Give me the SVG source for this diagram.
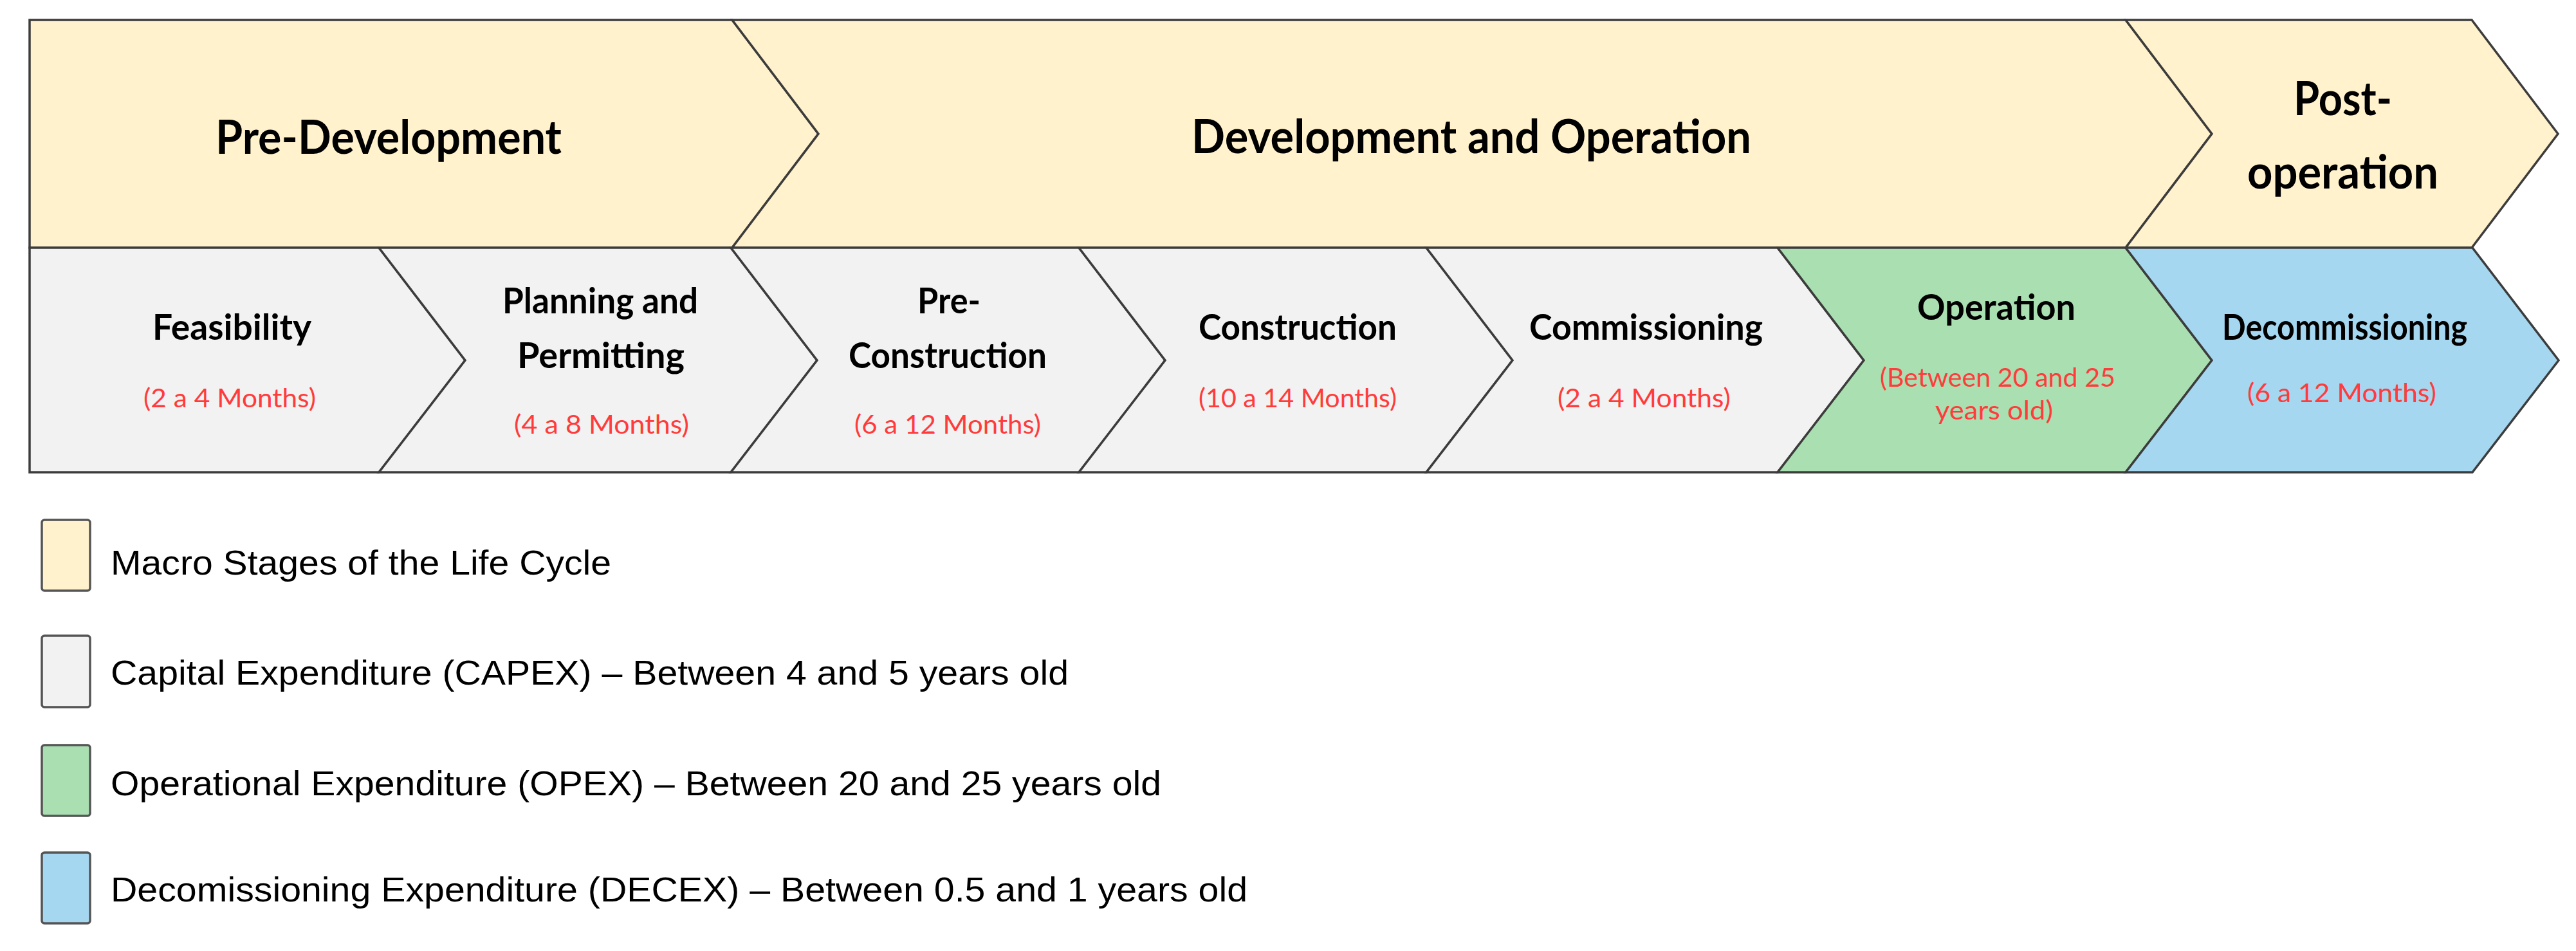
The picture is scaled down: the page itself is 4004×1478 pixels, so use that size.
<svg xmlns="http://www.w3.org/2000/svg" width="4004" height="1478" viewBox="0 0 4004 1478">
<style>
.bg{fill:#ffffff}
.shape{stroke:#3c3c3c;stroke-width:3.5;stroke-linejoin:miter}
.macro{fill:#FFF2CC}
.capex{fill:#F2F2F2}
.opex{fill:#A9DFB1}
.decex{fill:#A6D7F0}
.mt{font-family:Lato,"Liberation Sans",sans-serif;font-weight:bold;font-size:72px;fill:#000}
.st{font-family:Lato,"Liberation Sans",sans-serif;font-weight:bold;font-size:55px;fill:#000}
.rt{font-family:Lato,"Liberation Sans",sans-serif;font-size:41px;fill:#FF3B3B}
.lg{font-family:"Liberation Sans",Arial,sans-serif;font-size:53px;fill:#000}
.sw{stroke:#555555;stroke-width:3.5}
</style>
<rect class="bg" x="0" y="0" width="4004" height="1478"/>

<g id="macro-pre-development">
<polygon class="shape macro" points="46,31 1138,31 1272,208 1138,385 46,385"/>
<text class="mt" x="335" y="239" textLength="538" lengthAdjust="spacingAndGlyphs">Pre-Development</text>
</g>
<g id="macro-development-operation">
<polygon class="shape macro" points="1138,31 3304,31 3438,208 3304,385 1138,385 1272,208"/>
<text class="mt" x="1852" y="238" textLength="870" lengthAdjust="spacingAndGlyphs">Development and Operation</text>
</g>
<g id="macro-post-operation">
<polygon class="shape macro" points="3304,31 3842,31 3976,208 3842,385 3304,385 3438,208"/>
<text class="mt" x="3565" y="179" textLength="153" lengthAdjust="spacingAndGlyphs">Post-</text>
<text class="mt" x="3493" y="293" textLength="297" lengthAdjust="spacingAndGlyphs">operation</text>
</g>

<g id="feasibility">
<polygon class="shape capex" points="46,385 589,385 723,560 589,734 46,734"/>
<text class="st" x="237" y="528" textLength="247" lengthAdjust="spacingAndGlyphs">Feasibility</text>
<text class="rt" x="223" y="633" textLength="268" lengthAdjust="spacingAndGlyphs">(2 a 4 Months)</text>
</g>
<g id="planning-permitting">
<polygon class="shape capex" points="589,385 1136,385 1270,560 1136,734 589,734 723,560"/>
<text class="st" x="781" y="487" textLength="304" lengthAdjust="spacingAndGlyphs">Planning and</text>
<text class="st" x="804" y="572" textLength="260" lengthAdjust="spacingAndGlyphs">Permitting</text>
<text class="rt" x="799" y="674" textLength="272" lengthAdjust="spacingAndGlyphs">(4 a 8 Months)</text>
</g>
<g id="pre-construction">
<polygon class="shape capex" points="1136,385 1677,385 1811,560 1677,734 1136,734 1270,560"/>
<text class="st" x="1426" y="487" textLength="98" lengthAdjust="spacingAndGlyphs">Pre-</text>
<text class="st" x="1319" y="572" textLength="308" lengthAdjust="spacingAndGlyphs">Construction</text>
<text class="rt" x="1328" y="674" textLength="290" lengthAdjust="spacingAndGlyphs">(6 a 12 Months)</text>
</g>
<g id="construction">
<polygon class="shape capex" points="1677,385 2217,385 2351,560 2217,734 1677,734 1811,560"/>
<text class="st" x="1863" y="528" textLength="308" lengthAdjust="spacingAndGlyphs">Construction</text>
<text class="rt" x="1863" y="633" textLength="308" lengthAdjust="spacingAndGlyphs">(10 a 14 Months)</text>
</g>
<g id="commissioning">
<polygon class="shape capex" points="2217,385 2763,385 2897,560 2763,734 2217,734 2351,560"/>
<text class="st" x="2377" y="528" textLength="363" lengthAdjust="spacingAndGlyphs">Commissioning</text>
<text class="rt" x="2421" y="633" textLength="269" lengthAdjust="spacingAndGlyphs">(2 a 4 Months)</text>
</g>
<g id="operation">
<polygon class="shape opex" points="2763,385 3304,385 3438,560 3304,734 2763,734 2897,560"/>
<text class="st" x="2980" y="497" textLength="246" lengthAdjust="spacingAndGlyphs">Operation</text>
<text class="rt" x="2922" y="601" textLength="366" lengthAdjust="spacingAndGlyphs">(Between 20 and 25</text>
<text class="rt" x="3008" y="652" textLength="183" lengthAdjust="spacingAndGlyphs">years old)</text>
</g>
<g id="decommissioning">
<polygon class="shape decex" points="3304,385 3843,385 3977,560 3843,734 3304,734 3438,560"/>
<text class="st" x="3454" y="528" textLength="381" lengthAdjust="spacingAndGlyphs">Decommissioning</text>
<text class="rt" x="3493" y="625" textLength="294" lengthAdjust="spacingAndGlyphs">(6 a 12 Months)</text>
</g>

<g id="connectors"></g>

<g id="legend-macro">
<rect class="sw macro" x="65" y="808" width="75" height="110" rx="4"/>
<text class="lg" x="172" y="893" textLength="778" lengthAdjust="spacingAndGlyphs">Macro Stages of the Life Cycle</text>
</g>
<g id="legend-capex">
<rect class="sw capex" x="65" y="988" width="75" height="111" rx="4"/>
<text class="lg" x="172" y="1064" textLength="1489" lengthAdjust="spacingAndGlyphs">Capital Expenditure (CAPEX) – Between 4 and 5 years old</text>
</g>
<g id="legend-opex">
<rect class="sw opex" x="65" y="1158" width="75" height="110" rx="4"/>
<text class="lg" x="172" y="1236" textLength="1633" lengthAdjust="spacingAndGlyphs">Operational Expenditure (OPEX) – Between 20 and 25 years old</text>
</g>
<g id="legend-decex">
<rect class="sw decex" x="65" y="1325" width="75" height="110" rx="4"/>
<text class="lg" x="172" y="1401" textLength="1767" lengthAdjust="spacingAndGlyphs">Decomissioning Expenditure (DECEX) – Between 0.5 and 1 years old</text>
</g>
</svg>
